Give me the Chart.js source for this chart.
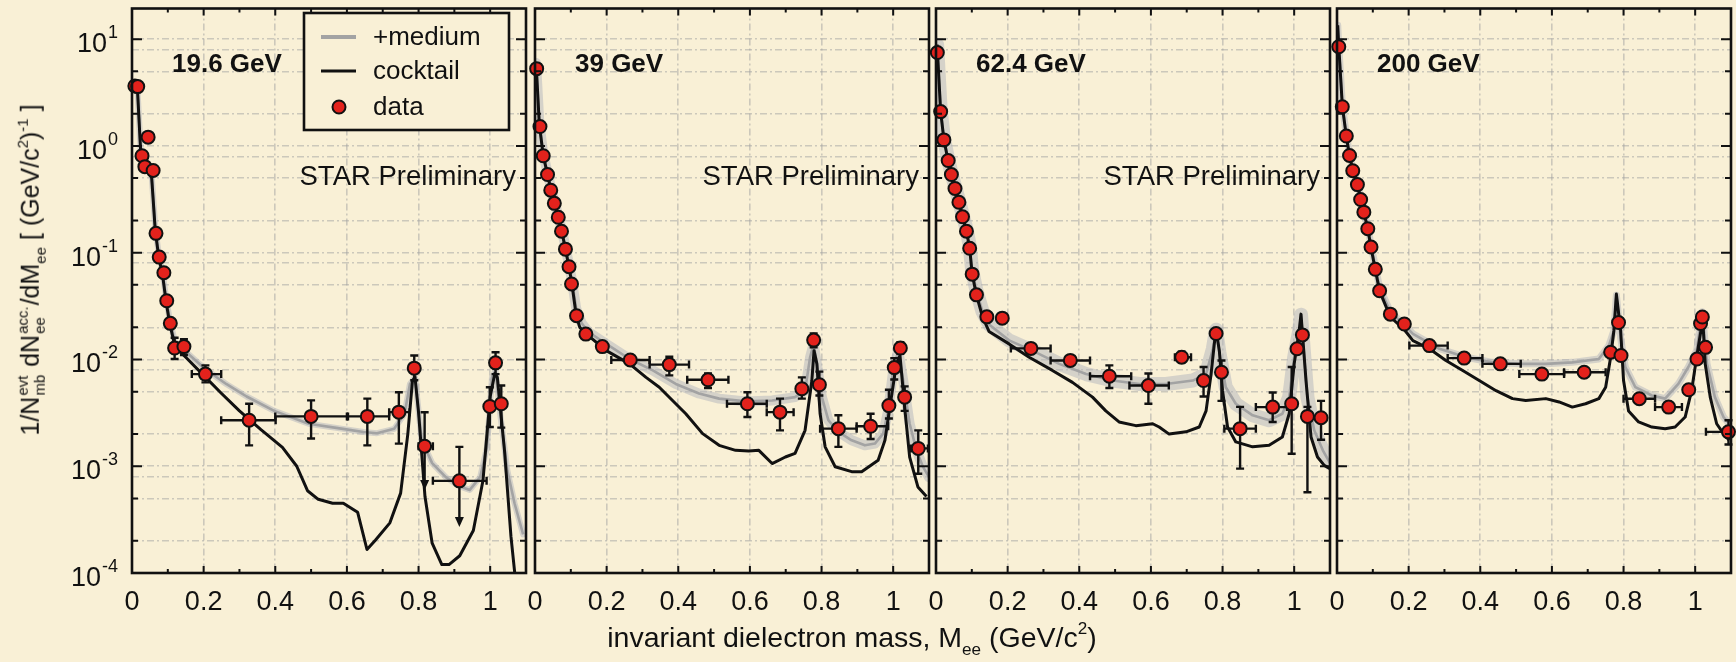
<!DOCTYPE html>
<html>
<head>
<meta charset="utf-8">
<script src="https://cdn.jsdelivr.net/npm/chart.js@4/dist/chart.umd.min.js"></script>
<style>
  body { margin: 0; background: #f9f0d6; }
  #page {
    position: relative; width: 1736px; height: 662px; overflow: hidden;
    background: #f9f0d6; color: #111;
    font-family: 'Liberation Sans', Arial, Helvetica, sans-serif;
  }
  .panel { position: absolute; top: 0; height: 662px; }
  .panel canvas { display: block; }
  #ytitle {
    position: absolute; left: 31px; top: 270px; z-index: 5;
    transform: translate(-50%, -50%) rotate(-90deg);
    font-size: 25px; line-height: 1; white-space: nowrap;
  }
  #xtitle {
    position: absolute; left: 852px; top: 623px; z-index: 5;
    transform: translateX(-50%);
    font-size: 28.5px; line-height: 29px; white-space: nowrap;
  }
  .stk {
    display: inline-flex; flex-direction: column; font-size: 0.6em;
    line-height: 1.15; vertical-align: 0.75em; margin: 0 1px;
  }
  .sb { font-size: 0.6em; position: relative; top: 0.45em; }
  .sp { font-size: 0.6em; position: relative; top: -0.75em; }
</style>
</head>
<body>
<div id="page">
  <div id="ytitle">1/N<span class="stk"><span>evt</span><span>mb</span></span> dN<span class="stk"><span>acc.</span><span>ee</span></span>/dM<span class="sb">ee</span> [ (GeV/c<span class="sp">2</span>)<span class="sp">-1</span> ]</div>
  <div id="xtitle">invariant dielectron mass, M<span class="sb">ee</span> (GeV/c<span class="sp">2</span>)</div>
</div>
<script>
// axis ticks and labels
const massTicks = [0, 0.2, 0.4, 0.6, 0.8, 1];
const yTickExp = [1, 0, -1, -2, -3, -4];
const energies = ['19.6 GeV', '39 GeV', '62.4 GeV', '200 GeV'];
const legendLabels = ['+medium', 'cocktail', 'data'];

// ---- 19.6 GeV ----
const mass19 = [0.008, 0.016, 0.028, 0.036, 0.045, 0.059, 0.067, 0.076, 0.089, 0.097, 0.107, 0.119, 0.145, 0.205, 0.327, 0.5, 0.657, 0.745, 0.788, 0.817, 0.914, 0.999, 1.015, 1.031];
const yield19 = [3.65, 3.6, 0.81, 0.64, 1.21, 0.59, 0.152, 0.091, 0.065, 0.0355, 0.0218, 0.0128, 0.0132, 0.0073, 0.0027, 0.00293, 0.00293, 0.00321, 0.0083, 0.00154, 0.00073, 0.00363, 0.0093, 0.00385];
const errHi19 = [null, null, null, null, null, null, null, null, null, null, null, 0.016, 0.0155, 0.0088, 0.00385, 0.00414, 0.0043, 0.00494, 0.0109, 0.0032, 0.00152, 0.0055, 0.0117, 0.0057];
const errLo19 = [null, null, null, null, null, null, null, null, null, null, null, 0.0101, 0.011, 0.0061, 0.00157, 0.00182, 0.00157, 0.00163, 0.0064, 0.0006, 0.00027, 0.00233, 0.0073, 0.0023];
const binLo19 = [null, null, null, null, null, null, null, null, null, null, null, null, null, 0.167, 0.249, 0.4, 0.603, 0.718, null, 0.8, 0.84, null, null, null];
const binHi19 = [null, null, null, null, null, null, null, null, null, null, null, null, null, 0.249, 0.401, 0.6, 0.718, 0.775, null, 0.84, 0.99, null, null, null];
const limits19 = [19, 20];
const cockM19 = [0.004, 0.015, 0.025, 0.035, 0.045, 0.055, 0.065, 0.075, 0.085, 0.095, 0.105, 0.12, 0.15, 0.2, 0.25, 0.3, 0.36, 0.42, 0.46, 0.49, 0.52, 0.56, 0.59, 0.63, 0.656, 0.68, 0.72, 0.75, 0.77, 0.783, 0.79, 0.8, 0.818, 0.838, 0.865, 0.885, 0.915, 0.953, 0.98, 1.0, 1.013, 1.02, 1.04, 1.058, 1.07];
const cockY19 = [3.6, 3.5, 0.79, 0.68, 0.6, 0.5, 0.16, 0.089, 0.063, 0.035, 0.022, 0.0132, 0.0105, 0.0071, 0.0048, 0.0033, 0.0022, 0.0015, 0.001, 0.00059, 0.00049, 0.00045, 0.00045, 0.00037, 0.000166, 0.000204, 0.000295, 0.00056, 0.002, 0.0063, 0.0069, 0.0032, 0.00052, 0.00019, 0.00012, 0.00012, 0.000145, 0.00025, 0.00074, 0.0045, 0.0074, 0.0068, 0.0014, 0.00022, 0.00009];
const medM19 = [0.004, 0.015, 0.025, 0.035, 0.045, 0.055, 0.065, 0.075, 0.085, 0.095, 0.105, 0.12, 0.148, 0.205, 0.263, 0.32, 0.397, 0.493, 0.589, 0.646, 0.684, 0.732, 0.761, 0.776, 0.79, 0.809, 0.838, 0.876, 0.914, 0.943, 0.972, 0.991, 1.005, 1.015, 1.029, 1.048, 1.068, 1.092];
const medY19 = [3.6, 3.5, 0.8, 0.7, 0.62, 0.52, 0.17, 0.095, 0.067, 0.038, 0.024, 0.0145, 0.012, 0.0081, 0.0059, 0.0045, 0.0033, 0.0025, 0.00224, 0.00209, 0.00204, 0.00224, 0.0031, 0.0059, 0.0068, 0.00174, 0.00107, 0.00079, 0.00065, 0.0006, 0.00079, 0.0015, 0.0068, 0.0079, 0.0029, 0.00091, 0.00045, 0.00023];

// ---- 39 GeV ----
const mass39 = [0.0046, 0.0139, 0.023, 0.035, 0.044, 0.054, 0.065, 0.074, 0.085, 0.095, 0.102, 0.116, 0.142, 0.188, 0.266, 0.375, 0.483, 0.593, 0.684, 0.745, 0.778, 0.794, 0.847, 0.937, 0.988, 1.003, 1.02, 1.032, 1.07];
const yield39 = [5.3, 1.52, 0.81, 0.54, 0.385, 0.29, 0.215, 0.159, 0.108, 0.074, 0.051, 0.0257, 0.0173, 0.0132, 0.0099, 0.00896, 0.00645, 0.00385, 0.00321, 0.00532, 0.0152, 0.0058, 0.00225, 0.00237, 0.0037, 0.0084, 0.0128, 0.00444, 0.00147];
const errHi39 = [null, null, null, null, null, null, null, null, null, null, null, null, null, null, null, 0.0106, 0.0074, 0.00494, 0.0043, 0.0068, 0.0175, 0.0077, 0.003, 0.0031, 0.0052, 0.0103, 0.0145, 0.0056, 0.00217];
const errLo39 = [null, null, null, null, null, null, null, null, null, null, null, null, null, null, null, 0.0071, 0.0054, 0.00289, 0.00217, 0.0043, 0.013, 0.0046, 0.00152, 0.0018, 0.0028, 0.0065, 0.0113, 0.0033, 0.00085];
const binLo39 = [null, null, null, null, null, null, null, null, null, null, null, null, null, null, 0.213, 0.32, 0.425, 0.536, 0.647, null, null, null, 0.796, 0.898, null, null, null, null, 1.05];
const binHi39 = [null, null, null, null, null, null, null, null, null, null, null, null, null, null, 0.32, 0.43, 0.54, 0.647, 0.722, null, null, null, 0.898, 0.986, null, null, null, null, 1.097];
const cockM39 = [0.003, 0.012, 0.023, 0.035, 0.045, 0.055, 0.065, 0.075, 0.085, 0.095, 0.103, 0.115, 0.125, 0.143, 0.199, 0.264, 0.31, 0.347, 0.393, 0.421, 0.468, 0.514, 0.56, 0.597, 0.625, 0.662, 0.699, 0.726, 0.754, 0.773, 0.779, 0.787, 0.796, 0.81, 0.838, 0.884, 0.912, 0.958, 0.977, 0.995, 1.009, 1.019, 1.032, 1.046, 1.069, 1.093];
const cockY39 = [6.0, 1.6, 0.81, 0.54, 0.38, 0.29, 0.21, 0.158, 0.107, 0.074, 0.051, 0.026, 0.02, 0.0174, 0.0121, 0.0091, 0.0068, 0.0055, 0.00385, 0.0031, 0.00202, 0.00157, 0.00141, 0.00139, 0.00141, 0.00106, 0.00122, 0.00132, 0.00217, 0.00635, 0.0121, 0.0091, 0.0031, 0.00152, 0.00099, 0.00089, 0.00089, 0.00114, 0.00175, 0.00444, 0.0091, 0.0109, 0.00358, 0.00122, 0.00064, 0.00052];
const medM39 = [0.003, 0.012, 0.023, 0.035, 0.045, 0.055, 0.065, 0.075, 0.085, 0.095, 0.103, 0.115, 0.13, 0.15, 0.199, 0.264, 0.329, 0.393, 0.458, 0.514, 0.588, 0.662, 0.726, 0.754, 0.768, 0.778, 0.787, 0.801, 0.819, 0.847, 0.884, 0.921, 0.949, 0.972, 0.986, 1.0, 1.014, 1.028, 1.046, 1.065, 1.083, 1.1];
const medY39 = [6.0, 1.65, 0.85, 0.56, 0.4, 0.3, 0.22, 0.165, 0.112, 0.078, 0.055, 0.03, 0.022, 0.018, 0.014, 0.0101, 0.0079, 0.0059, 0.0048, 0.0043, 0.00405, 0.00413, 0.00444, 0.0051, 0.0105, 0.014, 0.0091, 0.00444, 0.0027, 0.0021, 0.00175, 0.00157, 0.00163, 0.00202, 0.0033, 0.0079, 0.0121, 0.00635, 0.0025, 0.00141, 0.00099, 0.00079];

// ---- 62.4 GeV ----
const mass62 = [0.0037, 0.013, 0.022, 0.034, 0.043, 0.053, 0.064, 0.074, 0.085, 0.094, 0.101, 0.113, 0.142, 0.185, 0.265, 0.375, 0.484, 0.593, 0.686, 0.747, 0.782, 0.797, 0.849, 0.94, 0.993, 1.008, 1.023, 1.037, 1.075];
const yield62 = [7.5, 2.1, 1.14, 0.73, 0.54, 0.4, 0.297, 0.217, 0.159, 0.11, 0.063, 0.0403, 0.0251, 0.0244, 0.0127, 0.0098, 0.00697, 0.0057, 0.0105, 0.00635, 0.0175, 0.0076, 0.00225, 0.00358, 0.00385, 0.0126, 0.017, 0.00293, 0.00285];
const errHi62 = [null, null, null, null, null, null, null, null, null, null, null, null, null, null, null, null, 0.0088, 0.0074, 0.0118, 0.0085, null, 0.0098, 0.0036, 0.0049, 0.0085, null, null, 0.0036, 0.0041];
const errLo62 = [null, null, null, null, null, null, null, null, null, null, null, null, null, null, null, null, 0.0054, 0.00385, 0.0094, 0.0045, null, 0.0041, 0.00095, 0.0026, 0.00131, null, null, 0.00057, 0.00177];
const binLo62 = [null, null, null, null, null, null, null, null, null, null, null, null, null, null, 0.209, 0.32, 0.43, 0.54, 0.667, null, null, null, 0.805, 0.893, null, null, null, null, null];
const binHi62 = [null, null, null, null, null, null, null, null, null, null, null, null, null, null, 0.32, 0.43, 0.545, 0.65, 0.712, null, null, null, 0.893, 0.98, null, null, null, null, null];
const cockM62 = [0.003, 0.013, 0.022, 0.034, 0.043, 0.053, 0.064, 0.074, 0.085, 0.094, 0.101, 0.113, 0.13, 0.148, 0.204, 0.26, 0.325, 0.381, 0.437, 0.474, 0.511, 0.558, 0.605, 0.623, 0.651, 0.698, 0.735, 0.754, 0.768, 0.777, 0.782, 0.791, 0.8, 0.814, 0.837, 0.884, 0.93, 0.967, 0.986, 1.0, 1.014, 1.019, 1.033, 1.047, 1.065, 1.084, 1.1];
const cockY62 = [8.9, 2.1, 1.15, 0.72, 0.54, 0.4, 0.295, 0.22, 0.158, 0.11, 0.063, 0.04, 0.025, 0.0183, 0.014, 0.0105, 0.0079, 0.0061, 0.00444, 0.0033, 0.0026, 0.0024, 0.0025, 0.00233, 0.002, 0.0021, 0.00233, 0.0033, 0.0073, 0.014, 0.019, 0.0121, 0.0051, 0.00233, 0.00169, 0.00152, 0.00157, 0.00188, 0.0031, 0.0091, 0.0186, 0.0266, 0.00635, 0.00188, 0.00122, 0.00102, 0.00095];
const medM62 = [0.003, 0.013, 0.022, 0.034, 0.043, 0.053, 0.064, 0.074, 0.085, 0.094, 0.101, 0.113, 0.13, 0.15, 0.204, 0.269, 0.344, 0.419, 0.493, 0.568, 0.642, 0.717, 0.754, 0.773, 0.782, 0.791, 0.809, 0.837, 0.884, 0.93, 0.967, 0.986, 1.0, 1.014, 1.019, 1.037, 1.056, 1.08, 1.1];
const medY62 = [8.9, 2.15, 1.18, 0.75, 0.56, 0.42, 0.31, 0.23, 0.167, 0.117, 0.068, 0.044, 0.028, 0.021, 0.0151, 0.0121, 0.0091, 0.0073, 0.00635, 0.0059, 0.0059, 0.00635, 0.0073, 0.0126, 0.019, 0.0117, 0.0055, 0.00385, 0.003, 0.0027, 0.0031, 0.00444, 0.0105, 0.0186, 0.0263, 0.00444, 0.00217, 0.00141, 0.00107];

// ---- 200 GeV ----
const mass200 = [0.005, 0.0148, 0.026, 0.035, 0.044, 0.057, 0.066, 0.075, 0.086, 0.095, 0.107, 0.119, 0.149, 0.188, 0.258, 0.355, 0.456, 0.572, 0.69, 0.764, 0.786, 0.793, 0.844, 0.926, 0.982, 1.005, 1.015, 1.02, 1.029, 1.093];
const yield200 = [8.5, 2.33, 1.24, 0.815, 0.587, 0.435, 0.315, 0.24, 0.168, 0.113, 0.07, 0.044, 0.0266, 0.0215, 0.0135, 0.0103, 0.0091, 0.0073, 0.0076, 0.0117, 0.0222, 0.0109, 0.00429, 0.00358, 0.0052, 0.0101, 0.0217, 0.025, 0.013, 0.0021];
const errHi200 = [null, null, null, null, null, null, null, null, null, null, null, null, null, null, null, null, null, null, null, null, null, null, null, null, null, null, null, null, null, 0.0027];
const errLo200 = [null, null, null, null, null, null, null, null, null, null, null, null, null, null, null, null, null, null, null, null, null, null, null, null, null, null, null, null, null, 0.0016];
const binLo200 = [null, null, null, null, null, null, null, null, null, null, null, null, null, null, 0.202, 0.309, 0.406, 0.509, 0.634, null, null, null, 0.8, 0.888, null, null, null, null, null, 1.03];
const binHi200 = [null, null, null, null, null, null, null, null, null, null, null, null, null, null, 0.309, 0.406, 0.513, 0.634, 0.75, null, null, null, 0.888, 0.963, null, null, null, null, null, 1.1];
const cockM200 = [0.002, 0.005, 0.015, 0.026, 0.035, 0.044, 0.057, 0.066, 0.075, 0.086, 0.095, 0.107, 0.119, 0.149, 0.188, 0.212, 0.258, 0.304, 0.351, 0.397, 0.444, 0.49, 0.527, 0.583, 0.62, 0.657, 0.694, 0.731, 0.75, 0.764, 0.773, 0.78, 0.792, 0.8, 0.814, 0.842, 0.879, 0.916, 0.944, 0.972, 0.99, 1.004, 1.016, 1.02, 1.028, 1.042, 1.06, 1.079, 1.095];
const cockY200 = [13.5, 8.5, 2.35, 1.23, 0.81, 0.59, 0.435, 0.315, 0.24, 0.166, 0.112, 0.069, 0.0437, 0.025, 0.019, 0.015, 0.0126, 0.0098, 0.0079, 0.00635, 0.0051, 0.0043, 0.00413, 0.0043, 0.004, 0.00358, 0.00385, 0.0043, 0.0055, 0.0105, 0.0186, 0.041, 0.0186, 0.00635, 0.0033, 0.0026, 0.00233, 0.00225, 0.00233, 0.00289, 0.0051, 0.0105, 0.0186, 0.028, 0.0091, 0.00444, 0.0025, 0.00202, 0.00175];
const medM200 = [0.002, 0.005, 0.015, 0.026, 0.035, 0.044, 0.057, 0.066, 0.075, 0.086, 0.095, 0.107, 0.119, 0.149, 0.188, 0.212, 0.286, 0.36, 0.434, 0.509, 0.583, 0.657, 0.731, 0.759, 0.773, 0.78, 0.792, 0.805, 0.833, 0.879, 0.916, 0.953, 0.981, 1.004, 1.02, 1.033, 1.055, 1.079, 1.095];
const medY200 = [13.5, 8.6, 2.4, 1.27, 0.84, 0.61, 0.45, 0.33, 0.25, 0.175, 0.118, 0.074, 0.047, 0.028, 0.021, 0.0174, 0.0126, 0.0105, 0.0094, 0.0091, 0.0091, 0.0094, 0.0101, 0.0135, 0.0186, 0.04, 0.0158, 0.0085, 0.0055, 0.0046, 0.0043, 0.0059, 0.0085, 0.0121, 0.028, 0.0091, 0.00444, 0.00289, 0.0025];

const FONT = "'Liberation Sans', Arial, Helvetica, sans-serif";
const INK = '#111';
const PAPER = '#f9f0d6';
const RED = '#e3221c';
const MED = '#a3a3a3';
const GRID = 'rgba(160,160,160,0.5)';
const PLOT_W = 394, PLOT_TOP = 6, PLOT_BOTTOM = 573, PAGE_H = 662;

Chart.defaults.font.family = FONT;

const pts = (xs, ys) => xs.map((x, i) => ({ x, y: ys[i] }));

// grid at 1, 2, 5, 8 of each decade
const yGrid = [];
for (let e = -4; e <= 1; e++) for (const k of [1, 2, 5, 8]) {
  const v = k * Math.pow(10, e);
  if (v < 19.4) yGrid.push(v);
}

function drawErrorBars(chart, s) {
  const { ctx, scales: { x, y } } = chart;
  const cap = 4;
  ctx.save();
  ctx.strokeStyle = INK;
  ctx.fillStyle = INK;
  ctx.lineWidth = 2.4;
  s.mass.forEach((m, i) => {
    const px = x.getPixelForValue(m);
    const py = y.getPixelForValue(s.val[i]);
    if (s.hi[i] != null) {
      const top = y.getPixelForValue(s.hi[i]);
      const bot = y.getPixelForValue(s.lo[i]);
      const arrow = s.limits.includes(i);
      ctx.beginPath();
      ctx.moveTo(px, top); ctx.lineTo(px, arrow ? bot - 8 : bot);
      ctx.moveTo(px - cap, top); ctx.lineTo(px + cap, top);
      if (!arrow) { ctx.moveTo(px - cap, bot); ctx.lineTo(px + cap, bot); }
      ctx.stroke();
      if (arrow) {
        ctx.beginPath();
        ctx.moveTo(px - 4.5, bot - 10); ctx.lineTo(px + 4.5, bot - 10); ctx.lineTo(px, bot);
        ctx.closePath(); ctx.fill();
      }
    }
    if (s.binLo[i] != null) {
      const l = x.getPixelForValue(s.binLo[i]);
      const r = x.getPixelForValue(s.binHi[i]);
      ctx.beginPath();
      ctx.moveTo(l, py); ctx.lineTo(r, py);
      ctx.moveTo(l, py - cap); ctx.lineTo(l, py + cap);
      ctx.moveTo(r, py - cap); ctx.lineTo(r, py + cap);
      ctx.stroke();
    }
  });
  ctx.restore();
}

function drawFrame(chart, p) {
  const { ctx, chartArea: a, scales: { x, y } } = chart;
  ctx.save();
  ctx.strokeStyle = INK;
  ctx.lineWidth = 2;
  ctx.beginPath();
  // inward ticks on both vertical sides
  for (let e = -4; e <= 1; e++) for (const k of [1, 2, 5]) {
    const v = k * Math.pow(10, e);
    if (v > 19.4) continue;
    const py = y.getPixelForValue(v);
    const len = k === 1 ? 10 : 6;
    ctx.moveTo(a.left, py); ctx.lineTo(a.left + len, py);
    ctx.moveTo(a.right, py); ctx.lineTo(a.right - len, py);
  }
  // inward ticks on top and bottom
  for (let i = 1; i <= 10; i++) {
    const px = x.getPixelForValue(i / 10);
    const len = i % 2 ? 4 : 7;
    ctx.moveTo(px, a.bottom); ctx.lineTo(px, a.bottom - len);
    ctx.moveTo(px, a.top); ctx.lineTo(px, a.top + len);
  }
  ctx.stroke();
  ctx.lineWidth = 2.6;
  ctx.strokeRect(a.left, a.top, a.width, a.height);

  ctx.fillStyle = INK;
  ctx.textAlign = 'left';
  ctx.textBaseline = 'alphabetic';
  ctx.font = 'bold 26px ' + FONT;
  ctx.fillText(p.title, a.left + 40, 72);

  if (p.prelim) {
    ctx.font = '27.5px ' + FONT;
    ctx.textAlign = 'right';
    ctx.fillText('STAR Preliminary', a.right - 10, 185);
  }

  if (p.yLabels) {
    const right = a.left - 14;
    yTickExp.forEach(e => {
      const py = y.getPixelForValue(Math.pow(10, e));
      const exp = String(e);
      ctx.font = '18px ' + FONT;
      const wExp = ctx.measureText(exp).width;
      ctx.textAlign = 'left';
      ctx.fillText(exp, right - wExp, py - 1);
      ctx.font = '27px ' + FONT;
      const wBase = ctx.measureText('10').width;
      ctx.fillText('10', right - wExp - wBase - 1, py + 13);
    });
  }

  if (p.legend) {
    const bx = a.left + 172, by = 13, bw = a.width - 172 - 17, bh = 117;
    ctx.fillStyle = PAPER;
    ctx.fillRect(bx, by, bw, bh);
    ctx.lineWidth = 2.6;
    ctx.strokeStyle = INK;
    ctx.strokeRect(bx, by, bw, bh);
    const rows = [37, 71, 107];
    ctx.lineWidth = 4;
    ctx.strokeStyle = MED;
    ctx.beginPath(); ctx.moveTo(a.left + 189, rows[0]); ctx.lineTo(a.left + 224, rows[0]); ctx.stroke();
    ctx.lineWidth = 3;
    ctx.strokeStyle = INK;
    ctx.beginPath(); ctx.moveTo(a.left + 189, rows[1]); ctx.lineTo(a.left + 224, rows[1]); ctx.stroke();
    ctx.beginPath(); ctx.arc(a.left + 207, rows[2], 6.5, 0, Math.PI * 2);
    ctx.fillStyle = RED; ctx.fill();
    ctx.lineWidth = 2; ctx.stroke();
    ctx.fillStyle = INK;
    ctx.font = '26px ' + FONT;
    ctx.textAlign = 'left';
    ctx.textBaseline = 'middle';
    legendLabels.forEach((t, i) => ctx.fillText(t, a.left + 241, rows[i] + 1));
  }
  ctx.restore();
}

const panels = [
  { left: 132, pad: 132, title: energies[0], prelim: true, legend: true, yLabels: true, band: 6,
    pts: { mass: mass19, val: yield19, hi: errHi19, lo: errLo19, binLo: binLo19, binHi: binHi19, limits: limits19 },
    cocktail: pts(cockM19, cockY19), medium: pts(medM19, medY19) },
  { left: 535, pad: 40, title: energies[1], prelim: true, band: 10,
    pts: { mass: mass39, val: yield39, hi: errHi39, lo: errLo39, binLo: binLo39, binHi: binHi39, limits: [] },
    cocktail: pts(cockM39, cockY39), medium: pts(medM39, medY39) },
  { left: 936, pad: 40, title: energies[2], prelim: true, band: 14,
    pts: { mass: mass62, val: yield62, hi: errHi62, lo: errLo62, binLo: binLo62, binHi: binHi62, limits: [] },
    cocktail: pts(cockM62, cockY62), medium: pts(medM62, medY62) },
  { left: 1337, pad: 40, title: energies[3], prelim: false, band: 7,
    pts: { mass: mass200, val: yield200, hi: errHi200, lo: errLo200, binLo: binLo200, binHi: binHi200, limits: [] },
    cocktail: pts(cockM200, cockY200), medium: pts(medM200, medY200) }
];

const page = document.getElementById('page');

panels.forEach(p => {
  const w = p.pad + PLOT_W + 12;
  const holder = document.createElement('div');
  holder.className = 'panel';
  holder.style.left = (p.left - p.pad) + 'px';
  holder.style.width = w + 'px';
  const cv = document.createElement('canvas');
  cv.width = w;
  cv.height = PAGE_H;
  holder.appendChild(cv);
  page.appendChild(holder);

  new Chart(cv, {
    type: 'scatter',
    data: {
      datasets: [
        { label: 'data', data: pts(p.pts.mass, p.pts.val), order: 0, clip: false,
          pointRadius: 6.5, pointBorderWidth: 2, pointBackgroundColor: RED, pointBorderColor: INK },
        { label: 'cocktail', type: 'line', data: p.cocktail, order: 1,
          borderColor: INK, borderWidth: 3, pointRadius: 0, tension: 0, borderJoinStyle: 'round' },
        { label: '+medium', type: 'line', data: p.medium, order: 2,
          borderColor: MED, borderWidth: 2.6, pointRadius: 0, tension: 0, borderJoinStyle: 'round' },
        { label: 'band', type: 'line', data: p.medium, order: 3,
          borderColor: 'rgba(178,180,188,0.5)', borderWidth: p.band, pointRadius: 0, tension: 0,
          borderJoinStyle: 'round', borderCapStyle: 'round' }
      ]
    },
    options: {
      responsive: false,
      animation: false,
      events: [],
      layout: { padding: { left: p.pad, right: 12, top: PLOT_TOP, bottom: 0 } },
      plugins: { legend: { display: false }, tooltip: { enabled: false } },
      scales: {
        x: {
          type: 'linear', min: 0, max: 1.1,
          afterBuildTicks: s => { s.ticks = massTicks.map(v => ({ value: v })); },
          afterFit: s => { s.height = PAGE_H - PLOT_BOTTOM; s.paddingLeft = 0; s.paddingRight = 0; },
          ticks: { color: INK, font: { size: 27 }, padding: 13, maxRotation: 0, autoSkip: false,
                   callback: v => String(v) },
          grid: { color: GRID, lineWidth: 1.6, drawTicks: false },
          border: { display: false, dash: [7, 3, 2, 3] }
        },
        y: {
          type: 'logarithmic', min: 1e-4, max: 19.4,
          afterBuildTicks: s => { s.ticks = yGrid.map(v => ({ value: v })); },
          afterFit: s => { s.width = 0; },
          ticks: { display: false },
          grid: { color: GRID, lineWidth: 1.6, drawTicks: false },
          border: { display: false, dash: [7, 3, 2, 3] }
        }
      }
    },
    plugins: [{
      id: 'panelDecor',
      beforeDatasetDraw(chart, args) {
        if (args.index === 0) drawErrorBars(chart, p.pts);
      },
      afterDraw(chart) { drawFrame(chart, p); }
    }]
  });
});
</script>
</body>
</html>
